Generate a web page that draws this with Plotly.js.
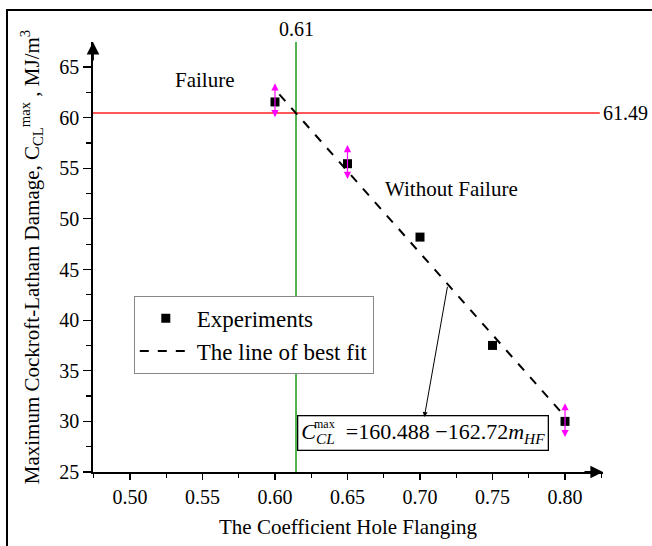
<!DOCTYPE html>
<html>
<head>
<meta charset="utf-8">
<script src="https://cdn.plot.ly/plotly-3.0.1.min.js"></script>
<style>
html,body{margin:0;padding:0;overflow:hidden;background:#fff;}
#plot{width:652px;height:546px;position:absolute;left:0;top:0;}
#frame{position:absolute;left:6px;top:9px;width:700px;height:600px;border:2px solid #000;pointer-events:none;}
</style>
</head>
<body>
<div id="plot"></div>
<div id="frame"></div>
<script>
// ---- data ----
const expX = [0.60, 0.65, 0.70, 0.75, 0.80];
const expY = [61.55, 55.45, 48.2, 37.5, 30.0];
const fitX = [0.603, 0.798];
const fitY = [62.3, 30.8];
const errX = [0.60, 0.65, 0.80];
const errLow = [59.9, 53.8, 28.3];
const errHigh = [63.4, 57.3, 31.8];
const critX = 0.6145, critXLabel = "0.61";
const critY = 60.46, critYLabel = "61.49";
const xTicks = [0.50, 0.55, 0.60, 0.65, 0.70, 0.75, 0.80];
const xTickText = ["0.50", "0.55", "0.60", "0.65", "0.70", "0.75", "0.80"];
const yTicks = [25, 30, 35, 40, 45, 50, 55, 60, 65];

const xr = [0.4745, 0.8262];
const yr = [25, 67.47];
const FONT = "'Liberation Serif', 'Times New Roman', serif";

const traces = [
  {x: fitX, y: fitY, mode: 'lines', name: 'The line of best fit',
   line: {color: '#000', width: 2, dash: 'dash'}},
  {x: expX, y: expY, mode: 'markers', name: 'Experiments',
   marker: {symbol: 'square', size: 9, color: '#000'}}
];

const annotations = [];
for (let i = 0; i < errX.length; i++) {
  annotations.push({x: errX[i], y: errHigh[i], ax: errX[i], ay: errLow[i],
    xref: 'x', yref: 'y', axref: 'x', ayref: 'y', text: '', showarrow: true,
    arrowside: 'end+start', arrowhead: 2, arrowsize: 1.2, arrowwidth: 1.2, arrowcolor: '#ff00ff'});
}
// axis arrows
annotations.push({x: 0, y: 1, xref: 'paper', yref: 'paper', ax: 0, ay: 20, axref: 'pixel', ayref: 'pixel',
  text: '', showarrow: true, arrowhead: 2, arrowsize: 1.4, arrowwidth: 1.8, arrowcolor: '#000'});
annotations.push({x: 1, y: 0, xref: 'paper', yref: 'paper', ax: -20, ay: 0, axref: 'pixel', ayref: 'pixel',
  text: '', showarrow: true, arrowhead: 2, arrowsize: 1.4, arrowwidth: 1.8, arrowcolor: '#000'});
// labels
annotations.push({x: critX, y: 1, xref: 'x', yref: 'paper', yanchor: 'bottom', text: critXLabel,
  showarrow: false, font: {family: FONT, size: 20, color: '#000'}, yshift: 0});
annotations.push({x: 1, y: critY, xref: 'paper', yref: 'y', xanchor: 'left', text: critYLabel,
  showarrow: false, font: {family: FONT, size: 20, color: '#000'}, xshift: -2});
annotations.push({x: 0.5515, y: 63.7, xref: 'x', yref: 'y', text: 'Failure',
  showarrow: false, font: {family: FONT, size: 21, color: '#000'}});
annotations.push({x: 0.7217, y: 53.0, xref: 'x', yref: 'y', text: 'Without Failure',
  showarrow: false, font: {family: FONT, size: 21, color: '#000'}});
// equation box
annotations.push({x: 0.7021, y: 28.82, xref: 'x', yref: 'y',
  text: '<i>C</i><sub><i>CL</i></sub>\u2002=160.488 \u2212162.72<i>m</i><sub><i>HF</i></sub>',
  showarrow: false, bordercolor: '#000', borderwidth: 1.3, borderpad: 3, bgcolor: '#fff',
  font: {family: FONT, size: 22, color: '#000'}});
annotations.push({x: 0.6338, y: 29.7, xref: 'x', yref: 'y', text: 'max',
  showarrow: false, font: {family: FONT, size: 12, color: '#000'}});
annotations.push({x: 0.703, y: 30.43, ax: 0.7191, ay: 43.44, xref: 'x', yref: 'y', axref: 'x', ayref: 'y',
  text: '', showarrow: true, arrowhead: 2, arrowsize: 1, arrowwidth: 1, arrowcolor: '#000'});

const shapes = [
  {type: 'line', xref: 'x', yref: 'y', x0: xr[0], x1: 0.824, y0: critY, y1: critY,
   line: {color: '#ff2020', width: 1.5}, layer: 'below'},
  {type: 'line', xref: 'x', yref: 'paper', x0: critX, x1: critX, y0: 0, y1: 1,
   line: {color: '#1a9a1a', width: 1.5}, layer: 'below'}
];

const axisCommon = {
  showline: true, linecolor: '#000', linewidth: 1.8, ticks: 'outside', tickcolor: '#000',
  tickwidth: 1.2, showgrid: false, zeroline: false, mirror: false,
  tickfont: {family: FONT, size: 20, color: '#000'}
};

const layout = {
  width: 652, height: 546,
  font: {family: FONT, color: '#000'},
  margin: {l: 93, r: 49, t: 42, b: 74},
  paper_bgcolor: 'rgba(0,0,0,0)', plot_bgcolor: 'rgba(0,0,0,0)',
  showlegend: true,
  legend: {x: 0.08, y: 0.41, xanchor: 'left', yanchor: 'top', bordercolor: '#888', borderwidth: 1,
    bgcolor: '#fff', font: {family: FONT, size: 23, color: '#000'}, traceorder: 'reversed',
    tracegroupgap: 0, itemwidth: 52},
  xaxis: Object.assign({}, axisCommon, {
    range: xr, tickvals: xTicks, ticktext: xTickText, ticklen: 6,
    minor: {dtick: 0.025, tick0: 0.475, ticks: 'outside', ticklen: 4, tickcolor: '#000', tickwidth: 1.2},
    title: {text: 'The Coefficient Hole Flanging', font: {family: FONT, size: 21, color: '#000'}, standoff: 12}
  }),
  yaxis: Object.assign({}, axisCommon, {
    range: yr, tickvals: yTicks, ticklen: 8,
    minor: {dtick: 2.5, tick0: 25, ticks: 'outside', ticklen: 5, tickcolor: '#000', tickwidth: 1.2},
    title: {text: 'Maximum Cockroft-Latham Damage, C<sub>CL</sub><sup>max</sup> , MJ/m<sup>3</sup>',
      font: {family: FONT, size: 21, color: '#000'}, standoff: 14}
  }),
  annotations: annotations,
  shapes: shapes
};

Plotly.newPlot('plot', traces, layout, {displayModeBar: false, staticPlot: true});
</script>
</body>
</html>
